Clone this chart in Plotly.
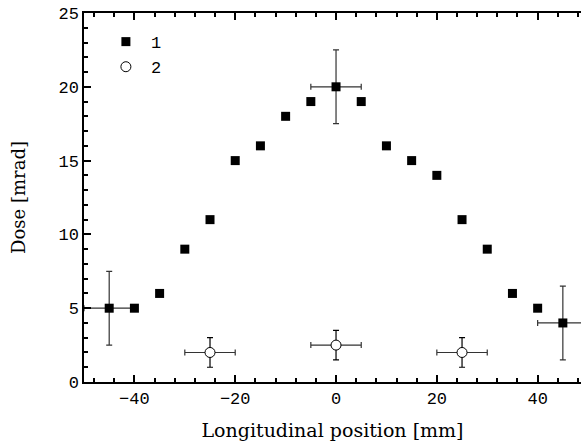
import plotly.graph_objects as go

# Series 1 (filled squares)
x1 = [-45, -40, -35, -30, -25, -20, -15, -10, -5, 0, 5, 10, 15, 20, 25, 30, 35, 40, 45]
y1 = [5, 5, 6, 9, 11, 15, 16, 18, 19, 20, 19, 16, 15, 14, 11, 9, 6, 5, 4]
y1_err = [2.5, 0, 0, 0, 0, 0, 0, 0, 0, 2.5, 0, 0, 0, 0, 0, 0, 0, 0, 2.5]
x1_err = [5, 0, 0, 0, 0, 0, 0, 0, 0, 5, 0, 0, 0, 0, 0, 0, 0, 0, 5]

# Series 2 (open circles)
x2 = [-25, 0, 25]
y2 = [2, 2.5, 2]
y2_err = [1, 1, 1]
x2_err = [5, 5, 5]

FONT = "Liberation Mono"
TFONT = "DejaVu Serif"
ERRC = "#333333"

fig = go.Figure()
fig.add_trace(go.Scatter(
    x=x1, y=y1, mode="markers", name="1",
    marker=dict(symbol="square", size=9, color="black"),
    error_y=dict(type="data", array=y1_err, visible=True, color=ERRC, thickness=1.2, width=3),
    error_x=dict(type="data", array=x1_err, visible=True, color=ERRC, thickness=1.2, width=3),
))
fig.add_trace(go.Scatter(
    x=x2, y=y2, mode="markers", name="2",
    marker=dict(symbol="circle", size=10, color="white", line=dict(color="black", width=1)),
    error_y=dict(type="data", array=y2_err, visible=True, color="black", thickness=1.2, width=3),
    error_x=dict(type="data", array=x2_err, visible=True, color=ERRC, thickness=1.2, width=3),
))

fig.update_layout(
    width=581, height=447,
    margin=dict(l=84, r=0, t=13, b=65),
    paper_bgcolor="white", plot_bgcolor="white",
    font=dict(family=FONT, size=17, color="black"),
    showlegend=True,
    legend=dict(x=0.034, y=0.97, xanchor="left", yanchor="top", xref="paper", yref="paper",
                bgcolor="rgba(0,0,0,0)", font=dict(family=FONT, size=17),
                tracegroupgap=0, itemwidth=40),
)
fig.update_xaxes(
    range=[-50, 48.6], showgrid=False, zeroline=False,
    showline=True, linecolor="black", linewidth=1.5, mirror="ticks",
    ticks="inside", ticklen=7, tickwidth=1.5, tickcolor="black",
    tick0=0, dtick=20,
    minor=dict(dtick=4, ticks="inside", ticklen=4, tickwidth=1.5, tickcolor="black"),
    title=dict(text="Longitudinal position [mm]", font=dict(family=TFONT, size=19), standoff=16),
    tickfont=dict(family=FONT, size=17),
)
fig.update_yaxes(
    range=[0, 25], showgrid=False, zeroline=False,
    showline=True, linecolor="black", linewidth=1.5,
    ticks="inside", ticklen=7, tickwidth=1.5, tickcolor="black",
    tick0=0, dtick=5,
    minor=dict(dtick=1, ticks="inside", ticklen=4, tickwidth=1.5, tickcolor="black"),
    title=dict(text="Dose [mrad]", font=dict(family=TFONT, size=18), standoff=28),
    tickfont=dict(family=FONT, size=17),
)

fig.write_html("out.html")
